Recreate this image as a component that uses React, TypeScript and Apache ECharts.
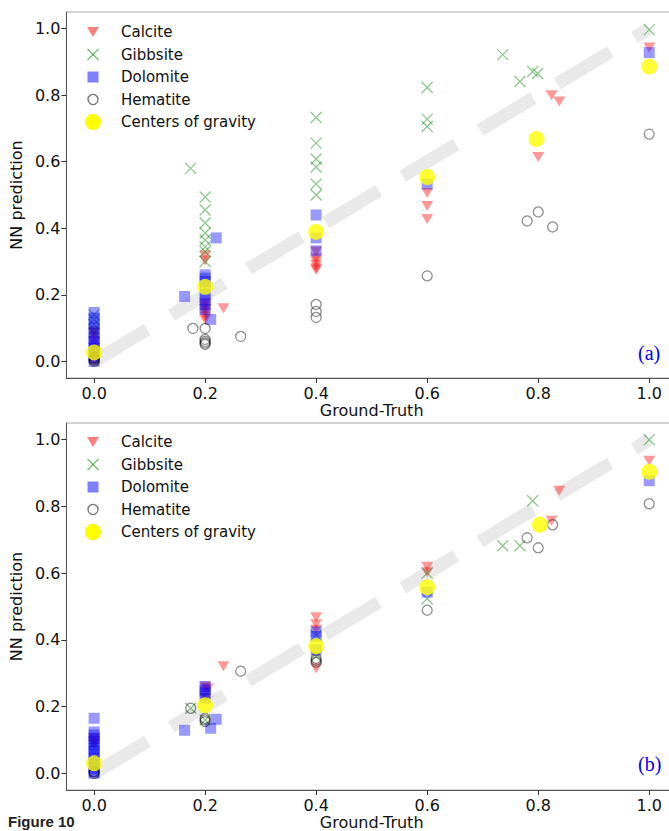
import React, { useEffect, useRef } from "react";
import * as echarts from "echarts";

// ---------- data ----------
const xTicks = [0, 0.2, 0.4, 0.6, 0.8, 1.0];
const yTicks = [0, 0.2, 0.4, 0.6, 0.8, 1.0];
const legendNames = ["Calcite", "Gibbsite", "Dolomite", "Hematite", "Centers of gravity"];
const diagonal = [[0, 0], [1, 1]];

// panel (a)
const calciteA = [
  [0, 0.09], [0, 0.085], [0, 0.075], [0, 0.06], [0, 0.04], [0, 0.02], [0, 0.0],
  [0.2, 0.318], [0.2, 0.303], [0.2, 0.176], [0.2, 0.165], [0.2, 0.155], [0.2, 0.145], [0.2, 0.135], [0.2, 0.125],
  [0.233, 0.16],
  [0.4, 0.33], [0.4, 0.31], [0.4, 0.3], [0.4, 0.29], [0.4, 0.28], [0.4, 0.275],
  [0.6, 0.506], [0.6, 0.467], [0.6, 0.428],
  [0.824, 0.8], [0.838, 0.781], [0.8, 0.614],
  [1.0, 0.943],
];
const gibbsiteA = [
  [0, 0.14], [0, 0.125], [0, 0.11], [0, 0.095], [0, 0.085],
  [0.2, 0.494], [0.2, 0.455], [0.2, 0.416], [0.2, 0.386], [0.2, 0.365], [0.2, 0.344], [0.2, 0.33], [0.2, 0.3],
  [0.174, 0.58],
  [0.4, 0.733], [0.4, 0.656], [0.4, 0.608], [0.4, 0.584], [0.4, 0.533], [0.4, 0.5],
  [0.6, 0.823], [0.6, 0.728], [0.6, 0.706],
  [0.736, 0.922], [0.767, 0.841], [0.79, 0.871], [0.799, 0.865],
  [1.0, 0.997],
];
const dolomiteA = [
  [0, 0.147], [0, 0.13], [0, 0.115], [0, 0.1], [0, 0.085], [0, 0.07], [0, 0.06], [0, 0.05],
  [0, 0.04], [0, 0.03], [0, 0.02], [0, 0.01], [0, 0.0],
  [0.2, 0.26], [0.2, 0.25], [0.2, 0.24], [0.2, 0.22], [0.2, 0.2], [0.2, 0.185], [0.2, 0.17], [0.2, 0.156],
  [0.22, 0.371], [0.163, 0.195], [0.21, 0.126],
  [0.4, 0.44], [0.4, 0.371], [0.4, 0.332],
  [0.6, 0.533],
  [1.0, 0.928],
];
const hematiteA = [
  [0, 0.0], [0, 0.004], [0, 0.008], [0, 0.012],
  [0.178, 0.099], [0.2, 0.099], [0.2, 0.066], [0.2, 0.06], [0.2, 0.055], [0.2, 0.051],
  [0.264, 0.075],
  [0.4, 0.171], [0.4, 0.15], [0.4, 0.132],
  [0.6, 0.257],
  [0.78, 0.422], [0.8, 0.449], [0.826, 0.404],
  [1.0, 0.683],
];
const centersA = [[0, 0.027], [0.2, 0.224], [0.4, 0.389], [0.6, 0.554], [0.797, 0.668], [1.0, 0.886]];

// panel (b)
const calciteB = [
  [0, 0.105], [0, 0.095], [0, 0.085],
  [0.2, 0.26], [0.205, 0.255], [0.2, 0.245], [0.2, 0.225],
  [0.233, 0.321],
  [0.4, 0.468], [0.4, 0.447], [0.4, 0.43], [0.4, 0.315],
  [0.6, 0.619], [0.6, 0.603],
  [0.824, 0.757], [0.838, 0.847],
  [1.0, 0.937],
];
const gibbsiteB = [
  [0, 0.09],
  [0.174, 0.195], [0.2, 0.16], [0.2, 0.23],
  [0.4, 0.414], [0.4, 0.35],
  [0.6, 0.6], [0.6, 0.523],
  [0.79, 0.817], [0.736, 0.682], [0.767, 0.682],
  [1.0, 1.0],
];
const dolomiteB = [
  [0, 0.165], [0, 0.124], [0, 0.115], [0, 0.105], [0, 0.095], [0, 0.085], [0, 0.075], [0, 0.065],
  [0, 0.055], [0, 0.045], [0, 0.035], [0, 0.025], [0, 0.015], [0, 0.005], [0, 0.0],
  [0.2, 0.26], [0.2, 0.25], [0.2, 0.24], [0.2, 0.225],
  [0.163, 0.129], [0.22, 0.162], [0.21, 0.135],
  [0.4, 0.424], [0.4, 0.41], [0.4, 0.37],
  [0.6, 0.543],
  [1.0, 0.877],
];
const hematiteB = [
  [0, 0.0], [0, 0.005],
  [0.174, 0.195], [0.2, 0.165], [0.2, 0.16], [0.2, 0.155],
  [0.264, 0.306],
  [0.4, 0.345], [0.4, 0.339], [0.4, 0.333],
  [0.6, 0.489],
  [0.78, 0.706], [0.8, 0.676], [0.826, 0.745],
  [1.0, 0.808],
];
const centersB = [[0, 0.03], [0.2, 0.204], [0.4, 0.381], [0.6, 0.558], [0.803, 0.745], [1.0, 0.904]];

// ---------- styling ----------
const FONT = "DejaVu Sans";
const X_PATH = "path://M0,0L10,10M0,10L10,0";
const RED = "rgba(255,0,0,0.5)";
const GREEN = "rgba(0,128,0,0.55)";
const BLUE = "rgba(0,0,255,0.5)";
const GREY = "rgba(0,0,0,0.55)";
const YELLOW = "#ffff00";

function panelSeries(idx: number, calcite: number[][], gibbsite: number[][], dolomite: number[][], hematite: number[][], centers: number[][]) {
  const common = { type: "scatter", xAxisIndex: idx, yAxisIndex: idx, emphasis: { disabled: true }, z: 2 };
  return [
    {
      type: "line", xAxisIndex: idx, yAxisIndex: idx, data: diagonal, symbol: "none", silent: true, z: 1,
      lineStyle: { color: "#e9e9e9", width: 13, type: [62, 28], cap: "butt" },
    },
    { ...common, name: legendNames[0], data: calcite, symbol: "triangle", symbolRotate: 180, symbolSize: [12, 10], itemStyle: { color: RED } },
    { ...common, name: legendNames[1], data: gibbsite, symbol: X_PATH, symbolSize: 11, itemStyle: { color: "transparent", borderColor: GREEN, borderWidth: 1.3 } },
    { ...common, name: legendNames[2], data: dolomite, symbol: "rect", symbolSize: 11, itemStyle: { color: BLUE } },
    { ...common, name: legendNames[3], data: hematite, symbol: "circle", symbolSize: 10, itemStyle: { color: "transparent", borderColor: GREY, borderWidth: 1.3 } },
    { ...common, name: legendNames[4], data: centers, symbol: "circle", symbolSize: 16, z: 3, itemStyle: { color: YELLOW } },
  ];
}

function xAxisOf(idx: number) {
  return {
    type: "value", gridIndex: idx, min: -0.05, max: 1.05,
    name: "Ground-Truth", nameLocation: "middle", nameGap: 24,
    nameTextStyle: { fontFamily: FONT, fontSize: 16, color: "#111" },
    axisLine: { onZero: false, lineStyle: { color: "#555", width: 1 } },
    axisTick: { customValues: xTicks, length: 5, lineStyle: { color: "#333" } },
    axisLabel: { customValues: xTicks, margin: 7, fontFamily: FONT, fontSize: 16, color: "#111", formatter: (v: number) => v.toFixed(1) },
    splitLine: { show: false },
  };
}

function yAxisOf(idx: number) {
  return {
    type: "value", gridIndex: idx, min: -0.05, max: 1.05,
    name: "NN prediction", nameLocation: "middle", nameGap: 34,
    nameTextStyle: { fontFamily: FONT, fontSize: 16, color: "#111" },
    axisLine: { show: true, onZero: false, lineStyle: { color: "#555", width: 1 } },
    axisTick: { show: true, customValues: yTicks, length: 5, lineStyle: { color: "#333" } },
    axisLabel: { customValues: yTicks, margin: 6, fontFamily: FONT, fontSize: 16, color: "#111", formatter: (v: number) => v.toFixed(1) },
    splitLine: { show: false },
  };
}

// legend drawn as graphic: icon column at x=93, text from x=121
function legendGraphic(firstRowY: number) {
  const cx = 93;
  const step = 22.5;
  const els: any[] = [];
  legendNames.forEach((name, i) => {
    const y = firstRowY + i * step;
    if (i === 0) els.push({ type: "polygon", shape: { points: [[cx - 6, y - 5], [cx + 6, y - 5], [cx, y + 5]] }, style: { fill: RED } });
    if (i === 1) {
      els.push({ type: "line", shape: { x1: cx - 5.5, y1: y - 5.5, x2: cx + 5.5, y2: y + 5.5 }, style: { stroke: GREEN, lineWidth: 1.3 } });
      els.push({ type: "line", shape: { x1: cx - 5.5, y1: y + 5.5, x2: cx + 5.5, y2: y - 5.5 }, style: { stroke: GREEN, lineWidth: 1.3 } });
    }
    if (i === 2) els.push({ type: "rect", shape: { x: cx - 5.5, y: y - 5.5, width: 11, height: 11 }, style: { fill: BLUE } });
    if (i === 3) els.push({ type: "circle", shape: { cx, cy: y, r: 5 }, style: { fill: "none", stroke: GREY, lineWidth: 1.3 } });
    if (i === 4) els.push({ type: "circle", shape: { cx, cy: y, r: 8 }, style: { fill: YELLOW } });
    els.push({ type: "text", x: 121, y, style: { text: name, fill: "#111", font: `15px '${FONT}'`, verticalAlign: "middle", align: "left" } });
  });
  return els;
}

export default function App() {
  const ref = useRef<HTMLDivElement>(null);
  useEffect(() => {
    if (!ref.current) return;
    const chart = echarts.init(ref.current, null, { renderer: "svg" });
    chart.setOption({
      animation: false,
      backgroundColor: "#ffffff",
      grid: [
        { left: 64, top: 12, width: 613, height: 366, show: true, borderColor: "#a8a8a8", borderWidth: 1, backgroundColor: "transparent" },
        { left: 64, top: 423, width: 613, height: 367, show: true, borderColor: "#a8a8a8", borderWidth: 1, backgroundColor: "transparent" },
      ],
      xAxis: [xAxisOf(0), xAxisOf(1)],
      yAxis: [yAxisOf(0), yAxisOf(1)],
      series: [
        ...panelSeries(0, calciteA, gibbsiteA, dolomiteA, hematiteA, centersA),
        ...panelSeries(1, calciteB, gibbsiteB, dolomiteB, hematiteB, centersB),
      ],
      graphic: [
        ...legendGraphic(32),
        ...legendGraphic(442),
        { type: "text", left: 638, top: 343, style: { text: "(a)", fill: "#0000ff", font: "20px 'Liberation Serif'" } },
        { type: "text", left: 638, top: 754, style: { text: "(b)", fill: "#0000ff", font: "20px 'Liberation Serif'" } },
        { type: "text", left: 8, top: 814, style: { text: "Figure 10", fill: "#222", font: "bold 15px 'Liberation Sans'" } },
      ],
    });
    return () => chart.dispose();
  }, []);
  return (
    <div style={{ position: "fixed", left: 0, top: 0, width: 669, height: 831, overflow: "hidden", background: "#fff" }}>
      <div ref={ref} style={{ width: 700, height: 831 }} />
    </div>
  );
}
